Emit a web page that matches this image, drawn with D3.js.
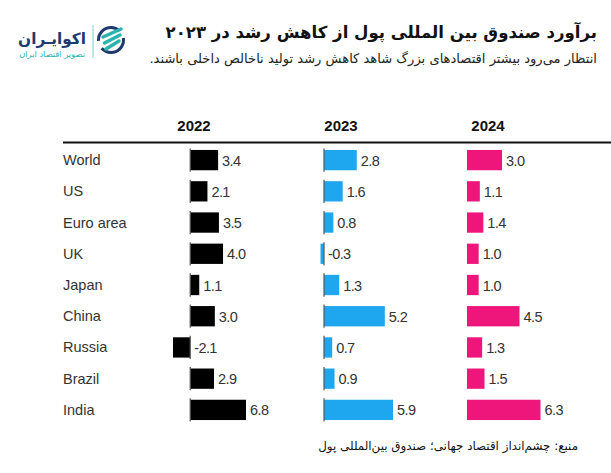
<!DOCTYPE html>
<html><head><meta charset="utf-8">
<script src="https://cdn.jsdelivr.net/npm/d3@7"></script>
<style>
body{margin:0;background:#fff;}
svg{display:block;}
</style></head>
<body><svg id="c" width="611" height="473"></svg>
<script>
const countries = ["World","US","Euro area","UK","Japan","China","Russia","Brazil","India"];
const years = ["2022","2023","2024"];
const v2022 = [3.4,2.1,3.5,4.0,1.1,3.0,-2.1,2.9,6.8];
const v2023 = [2.8,1.6,0.8,-0.3,1.3,5.2,0.7,0.9,5.9];
const v2024 = [3.0,1.1,1.4,1.0,1.0,4.5,1.3,1.5,6.3];
const seriesColors = ["#000000","#1ea7ee","#ee157b"];
const title = "برآورد صندوق بین المللی پول از کاهش رشد در ۲۰۲۳";
const subtitle = "انتظار می‌رود بیشتر اقتصادهای بزرگ شاهد کاهش رشد تولید ناخالص داخلی باشند.";
const source = "منبع: چشم‌انداز اقتصاد جهانی؛ صندوق بین‌المللی پول";

const svg = d3.select("#c");
const fa = "'DejaVu Sans', 'Noto Sans', sans-serif";
const lat = "'Liberation Sans', Arial, sans-serif";

function fitText(sel, w){
  const n = sel.node();
  const len = n.getComputedTextLength();
  if(len>0){
    const fs = parseFloat(sel.attr("font-size"));
    sel.attr("font-size", fs*w/len);
  }
}
function rtlText(x, y, txt, fs){
  return svg.append("text").attr("x",x).attr("y",y).attr("direction","rtl").attr("text-anchor","start")
    .attr("font-family",fa).attr("font-size",fs).text(txt);
}

// titles (right aligned)
const t1 = rtlText(597, 38, title, 18).attr("font-weight","bold").attr("fill","#111");
fitText(t1, 432);
const t2 = rtlText(597, 63, subtitle, 12.5).attr("fill","#222");
fitText(t2, 448);
const t3 = rtlText(578, 450, source, 12).attr("fill","#111");
fitText(t3, 260);

// logo
const logo = svg.append("g");
const l1 = logo.append("text").attr("x",86).attr("y",44).attr("text-anchor","end")
  .attr("font-family",fa).attr("font-weight","bold").attr("font-size",17).attr("fill","#1d3a6e").text("اکوایـران");
fitText(l1, 68);
const l2 = logo.append("text").attr("x",85).attr("y",57).attr("text-anchor","end")
  .attr("font-family",fa).attr("font-size",7).attr("fill","#2bb3ad").text("تصویر اقتصاد ایران");
fitText(l2, 66);
logo.append("line").attr("x1",93).attr("x2",93).attr("y1",25).attr("y2",58).attr("stroke","#7fcfd0").attr("stroke-width",1);
logo.append("circle").attr("cx",111).attr("cy",40).attr("r",12.5).attr("fill","none").attr("stroke","#1d3a6e").attr("stroke-width",3)
  .attr("stroke-dasharray","30 8");
[0,1,2].forEach(i=>{
  logo.append("path").attr("d",`M${103+i*1.5},${37+i*6} L${121-i},${29+i*6}`).attr("stroke","#2bb3ad").attr("stroke-width",3.5).attr("stroke-linecap","round");
});

// layout
const y = d3.scaleBand().domain(countries).range([144.5,425.5]).paddingInner(0.35).paddingOuter(0.175);
const all = [v2022,v2023,v2024];
const x22 = d3.scaleLinear().domain([-2.1,6.8]).range([173,246]);
const x23 = d3.scaleLinear().domain([-0.3,5.9]).range([320.5,393]);
const x24 = d3.scaleLinear().domain([0,6.3]).range([467,540.5]);
const xs = [x22,x23,x24];
const headX = [194,341,488];

// header
svg.selectAll("text.yr").data(years).join("text").attr("class","yr")
  .attr("x",(d,i)=>headX[i]).attr("y",131).attr("text-anchor","middle")
  .attr("font-family",lat).attr("font-weight","bold").attr("font-size",15).attr("fill","#111").text(d=>d);
svg.append("line").attr("x1",63).attr("x2",611).attr("y1",142.5).attr("y2",142.5).attr("stroke","#111").attr("stroke-width",2);

// country labels
svg.selectAll("text.cty").data(countries).join("text").attr("class","cty")
  .attr("x",63).attr("y",d=>y(d)+y.bandwidth()/2+5).attr("font-family",lat).attr("font-size",14.5).attr("fill","#333").text(d=>d);

all.forEach((vals,k)=>{
  const x = xs[k];
  const g = svg.append("g");
  g.selectAll("rect").data(vals).join("rect")
    .attr("x",d=>x(Math.min(0,d))).attr("width",d=>Math.abs(x(d)-x(0)))
    .attr("y",(d,i)=>y(countries[i])).attr("height",y.bandwidth()).attr("fill",seriesColors[k]);
  if(k<2){
    g.selectAll("line").data(vals).join("line")
      .attr("x1",x(0)).attr("x2",x(0))
      .attr("y1",(d,i)=>y(countries[i])-1.5).attr("y2",(d,i)=>y(countries[i])+y.bandwidth()+1.5)
      .attr("stroke","#555").attr("stroke-width",1.2);
  }
  g.selectAll("text").data(vals).join("text")
    .attr("x",d=>(d<0? x(0):x(d))+4)
    .attr("y",(d,i)=>y(countries[i])+y.bandwidth()/2+5.5)
    .attr("font-family",lat).attr("font-size",14.5).attr("letter-spacing",-0.6).attr("fill","#333")
    .text(d=>d.toFixed(1));
});
</script></body></html>
